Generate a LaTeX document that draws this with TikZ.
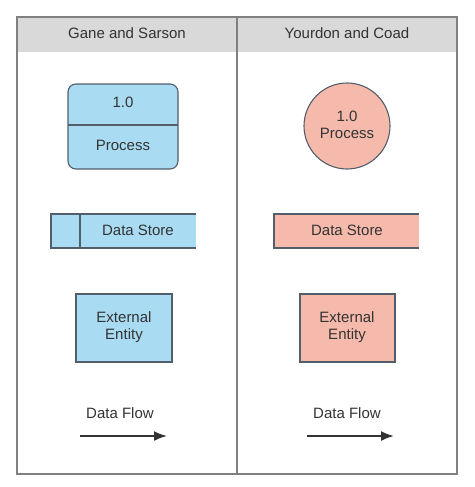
\documentclass[tikz,border=0pt]{standalone}
\usepackage{fontspec}
\setmainfont{Liberation Sans}
\usetikzlibrary{arrows.meta}
\definecolor{gsblue}{RGB}{169,220,242}
\definecolor{ycpink}{RGB}{246,186,172}
\definecolor{shapeline}{RGB}{82,94,106}
\definecolor{tableline}{RGB}{128,128,128}
\definecolor{headgray}{RGB}{217,217,217}
\definecolor{textgray}{RGB}{51,51,51}
\begin{document}
\begin{tikzpicture}[x=1pt,y=-1pt,
  every node/.style={font=\fontsize{15}{17.5}\selectfont,text=textgray,align=center},
  shape line/.style={draw=shapeline,line width=1.1pt},
  flow/.style={-{Latex[length=13pt,width=10pt]},draw=textgray,line width=1.8pt}]
  \useasboundingbox (0,0) rectangle (474,487);

  \fill [headgray]
    (17,17) rectangle ++(440,35)
  ;
  \draw [tableline, line width=1.3pt]
    (17,17) rectangle ++(440,457)
  ;
  \draw [tableline, line width=1.3pt]
    (237,17)
    -- ++(0,457)
  ;
  \node (gs title) at (127,33) {Gane and Sarson};
  \node (yc title) at (347,33) {Yourdon and Coad};

  \draw [shape line, fill=gsblue, rounded corners=8pt]
    (68,84) rectangle ++(110,85)
  ;
  \draw [shape line]
    (68,125)
    -- ++(110,0)
  ;
  \node (gs number) at (123,102) {1.0};
  \node (gs process) at (123,145) {Process};

  \fill [gsblue]
    (51,214) rectangle ++(145,34)
  ;
  \draw [shape line]
    (196,214)
    -- ++(-145,0)
    -- ++(0,34)
    -- ++(145,0)
  ;
  \draw [shape line]
    (80,214)
    -- ++(0,34)
  ;
  \node (gs store) at (138,230) {Data Store};

  \draw [shape line, fill=gsblue]
    (76,294) rectangle ++(96,68)
  ;
  \node (gs entity) at (124,327) {External\\Entity};

  \node (gs flow) at (120,413) {Data Flow};
  \coordinate (gs flow start) at (80,436);
  \coordinate (gs flow end) at (167,436);
  \draw [flow]
    (gs flow start)
    -- (gs flow end)
  ;

  \draw [shape line, fill=ycpink]
    (347,126) circle (43)
  ;
  \node (yc process) at (347,125) {1.0\\Process};

  \fill [ycpink]
    (274,214) rectangle ++(145,34)
  ;
  \draw [shape line]
    (419,214)
    -- ++(-145,0)
    -- ++(0,34)
    -- ++(145,0)
  ;
  \node (yc store) at (347,230) {Data Store};

  \draw [shape line, fill=ycpink]
    (300,294) rectangle ++(95,68)
  ;
  \node (yc entity) at (347,327) {External\\Entity};

  \node (yc flow) at (347,413) {Data Flow};
  \coordinate (yc flow start) at (307,436);
  \coordinate (yc flow end) at (394,436);
  \draw [flow]
    (yc flow start)
    -- (yc flow end)
  ;
\end{tikzpicture}
\end{document}
